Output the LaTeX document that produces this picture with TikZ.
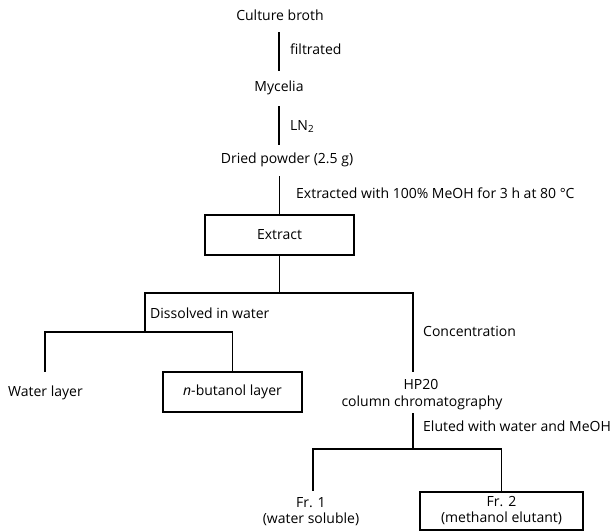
\documentclass[tikz,border=0pt]{standalone}
\usepackage{fontspec}
\setmainfont{Open Sans}
\begin{document}
\begin{tikzpicture}[x=1pt,y=-1pt,
  txt/.style={inner sep=0pt, font=\fontsize{14}{16}\selectfont, text height=10pt, text depth=3.5pt},
  txt2/.style={inner sep=0pt, font=\fontsize{14}{16}\selectfont, align=center},
  stagebox/.style={draw, line width=1.8pt, inner sep=0pt, font=\fontsize{14}{16}\selectfont, align=center},
  conn/.style={line width=1.8pt}]
\useasboundingbox (0,0) rectangle (615,532);
\node[txt, anchor=base] (culture) at (280,21) {Culture broth};
\node[txt, anchor=base west] (filt) at (290,55) {filtrated};
\node[txt, anchor=base] (myc) at (279,92) {Mycelia};
\node[txt, anchor=base west] (ln2) at (290,130) {LN\textsubscript{2}};
\node[txt, anchor=base] (dried) at (287,163) {Dried powder (2.5 g)};
\node[txt, anchor=base west] (extr) at (296,198) {Extracted with 100\% MeOH for 3 h at 80 °C};
\node[stagebox, minimum width=149pt, minimum height=40pt] (extract) at (279.5,235) {Extract};
\node[txt, anchor=base west] (diss) at (150,318) {Dissolved in water};
\node[txt, anchor=base west] (conc) at (423,336) {Concentration};
\node[txt, anchor=base west] (water) at (8,396) {Water layer};
\node[stagebox, minimum width=139pt, minimum height=40pt] (but) at (232.5,392) {\textit{n}-butanol layer};
\node[txt, anchor=base] (hp) at (421,389) {HP20};
\node[txt, anchor=base] (col) at (422,406) {column chromatography};
\node[txt, anchor=base west] (elut) at (423,431) {Eluted with water and MeOH};
\node[txt2] (fr1) at (311,512) {Fr. 1\\(water soluble)};
\node[stagebox, minimum width=163pt, minimum height=38pt] (fr2) at (501.5,511) {Fr. 2\\(methanol elutant)};
\coordinate (sL) at (145,293);
\coordinate (sR) at (413,293);
\coordinate (wL) at (45,332);
\coordinate (eL) at (313,449);
\draw[conn, shorten <=7.5pt, shorten >=11pt] (myc.north |- culture.south) -- (myc.north);
\draw[conn, shorten <=10.5pt, shorten >=8pt] (myc.south) -- (myc.south |- dried.north);
\draw[conn, shorten <=9.5pt] (extract.north |- dried.south) -- (extract.north);
\draw[conn] (extract.south) -- (extract.south |- sL);
\draw[conn, shorten >=7pt] (sL |- wL) -- (sL) -- (sR) -- (sR |- hp.north);
\draw[conn, shorten <=14pt] (wL |- water.north) -- (wL) -- (wL -| but.north) -- (but.north);
\draw[conn, shorten <=3.5pt] (sR |- col.south) -- (sR |- eL);
\draw[conn, shorten <=7pt] (eL |- fr1.north) -- (eL) -- (eL -| fr2.north) -- (fr2.north);
\end{tikzpicture}
\end{document}
